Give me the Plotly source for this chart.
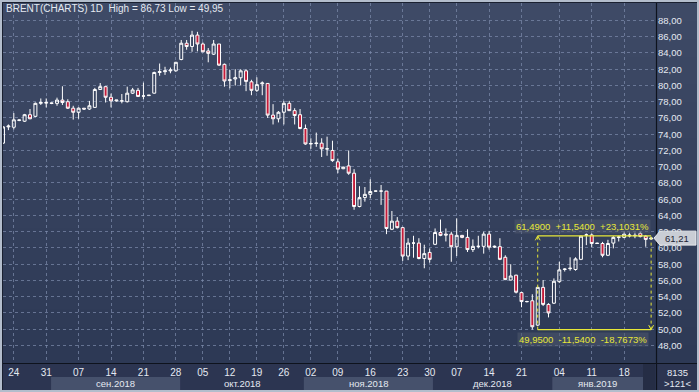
import plotly.graph_objects as go

W, H = 699, 392

# ---------------- data ----------------
opens = [72.9, 74.9, 74.86, 75.7, 75.6, 76.4, 76.2, 77.8, 77.9, 77.85,
         77.8, 78.2, 78.0, 77.2, 76.7, 77.2, 77.1, 77.3, 79.5, 79.85,
         78.55, 78.1, 78.1, 78.0, 79.05, 79.4, 78.7, 78.75, 79.05, 81.6,
         81.7, 81.8, 81.8, 83.2, 85.2, 84.8, 86.2, 85.1, 84.25, 83.85,
         85.1, 82.6, 80.6, 80.8, 80.95, 81.8, 80.45, 79.4, 80.2, 80.25,
         76.35, 75.9, 76.7, 77.8, 76.9, 76.4, 74.7, 72.8, 72.85, 72.9,
         72.2, 72.0, 70.6, 69.75, 70.1, 69.2, 65.1, 66.2, 66.6, 67.0,
         67.0, 67.0, 62.3, 63.3, 62.5, 59.0, 60.6, 60.6, 58.7, 59.45,
         60.45, 61.9, 61.7, 61.7, 60.15, 61.55, 61.3, 59.8, 60.2, 60.2,
         61.7, 60.1, 60.16, 58.85, 56.05, 56.65, 54.5, 53.4, 53.5, 50.5,
         55.15, 53.05, 53.2, 55.85, 57.35, 57.45, 57.35, 58.6, 61.6, 61.6,
         60.6, 60.55, 59.1, 60.6, 61.3, 61.3, 61.6, 61.5, 61.8, 61.45,
         61.1]
highs = [75.0, 75.2, 76.6, 75.8, 76.5, 77.1, 77.9, 78.4, 78.4, 77.9,
         78.5, 79.9, 78.3, 77.5, 77.3, 77.2, 78.1, 79.7, 80.3, 79.9,
         79.0, 78.2, 78.95, 79.85, 79.7, 79.7, 80.35, 78.8, 81.7, 82.7,
         82.3, 82.2, 82.9, 85.6, 85.6, 86.73, 86.6, 85.3, 84.6, 85.6,
         85.1, 82.7, 81.9, 82.0, 82.0, 82.0, 80.7, 81.0, 80.5, 80.3,
         77.7, 76.85, 78.1, 78.1, 77.2, 77.1, 75.2, 73.5, 74.2, 73.5,
         73.7, 73.2, 71.0, 70.0, 72.0, 69.7, 67.6, 67.5, 68.45, 67.05,
         67.75, 67.0, 64.55, 63.8, 62.6, 61.2, 61.5, 61.2, 60.4, 59.95,
         62.4, 63.5, 62.4, 62.0, 63.65, 61.6, 62.3, 61.05, 61.5, 62.0,
         62.1, 60.3, 61.2, 59.1, 58.0, 56.7, 54.6, 53.5, 54.3, 55.2,
         56.05, 53.2, 56.25, 58.3, 57.5, 58.85, 58.85, 61.5, 61.8, 61.8,
         60.65, 60.75, 61.0, 61.45, 61.5, 62.0, 61.9, 61.9, 62.0, 61.6,
         61.3]
lows = [72.8, 74.5, 74.6, 75.6, 75.5, 75.85, 76.1, 77.6, 77.3, 77.7,
        77.5, 77.6, 77.1, 75.8, 75.9, 77.0, 77.0, 77.25, 79.45, 77.9,
        77.3, 78.0, 77.8, 77.9, 78.95, 78.6, 78.3, 78.7, 79.0, 81.2,
        81.3, 81.5, 81.7, 83.1, 84.4, 84.15, 84.2, 84.1, 82.85, 83.75,
        82.4, 79.85, 79.65, 80.0, 80.0, 79.3, 78.8, 79.2, 78.8, 76.0,
        75.2, 75.45, 75.2, 76.85, 75.2, 74.6, 72.7, 72.2, 72.45, 71.2,
        71.35, 70.6, 69.2, 69.7, 69.0, 64.7, 65.0, 65.7, 66.1, 66.95,
        65.3, 61.7, 62.2, 62.4, 58.4, 58.5, 58.8, 58.6, 57.5, 58.2,
        60.35, 61.45, 60.8, 58.3, 59.0, 61.2, 59.5, 59.5, 59.95, 59.3,
        59.8, 60.0, 58.5, 56.05, 56.0, 54.4, 52.7, 53.3, 49.95, 50.4,
        52.85, 51.45, 53.1, 55.7, 57.1, 57.2, 57.2, 58.5, 60.35, 60.1,
        60.5, 58.85, 59.0, 59.95, 60.8, 61.2, 61.3, 61.2, 61.3, 60.15,
        61.0]
closes = [74.9, 75.0, 75.77, 75.75, 76.4, 75.9, 77.8, 77.9, 77.85, 77.8,
          78.2, 77.9, 77.2, 76.7, 77.2, 77.1, 77.5, 79.5, 79.85, 78.55,
          78.1, 78.2, 78.1, 79.05, 79.45, 78.65, 78.7, 78.8, 81.6, 81.7,
          81.8, 81.9, 82.85, 85.2, 84.8, 86.2, 85.1, 84.15, 83.95, 85.1,
          82.5, 80.55, 80.7, 80.95, 81.8, 80.5, 79.4, 80.1, 80.3, 76.35,
          75.9, 76.7, 77.8, 76.9, 76.3, 74.7, 72.8, 72.85, 72.9, 72.2,
          72.2, 70.75, 69.7, 69.95, 69.2, 65.1, 66.2, 66.6, 66.95, 67.0,
          67.0, 62.4, 63.3, 62.5, 59.0, 60.6, 60.6, 58.7, 59.3, 58.6,
          61.9, 61.55, 61.6, 60.15, 61.55, 61.3, 59.8, 60.2, 60.2, 61.7,
          60.1, 60.2, 58.6, 56.1, 56.55, 54.55, 53.4, 53.4, 50.3, 55.15,
          53.05, 52.0, 55.9, 57.3, 57.4, 57.5, 58.65, 61.45, 61.6, 60.55,
          60.55, 59.1, 60.55, 61.3, 61.35, 61.7, 61.5, 61.55, 61.4, 61.05,
          61.21]
bar_index = list(range(len(opens)))

tick_index = [2, 8, 14, 20, 26, 32, 37, 42, 47, 52, 57, 62, 68, 74, 79, 84,
              90, 96, 103, 109, 115]
tick_labels = ["24", "31", "07", "14", "21", "28", "05", "12", "19", "26",
               "02", "09", "16", "23", "30", "07", "14", "21", "04", "11", "18"]

month_labels = ["сен.2018", "окт.2018", "ноя.2018", "дек.2018", "янв.2019"]
month_start = [8.9, 32.8, 55.7, 79.6, 101.7]
month_end = [32.8, 55.7, 79.6, 101.7, 118.5]
month_shaded = [True, False, True, False, True]

price_ticks = [48, 50, 52, 54, 56, 58, 60, 62, 64, 66, 68, 70, 72, 74, 76,
               78, 80, 82, 84, 86, 88]

title_text = "BRENT(CHARTS) 1D  High = 86,73 Low = 49,95"
last_price = 61.21
measure_start, measure_end = 99, 120
measure_low, measure_high = 49.95, 61.49
measure_top_text = "61,4900  +11,5400  +23,1031%"
measure_bottom_text = "49,9500  -11,5400  -18,7673%"
footer_count = "8135"
footer_bars = ">121<"

# ---------------- layout geometry ----------------
PLOT_L, PLOT_R, PLOT_T, PLOT_B = 3, 656, 3, 363
Y_RANGE = [45.84, 90.15]
X_RANGE = [0.0, 120.9]
FONT = "Liberation Sans, Arial, sans-serif"
TXT = "#e4e9f1"
YELLOW = "#e8e838"


def px(x):
    return x / W


def py(y):
    return 1 - y / H


fig = go.Figure()
fig.add_trace(go.Candlestick(
    x=bar_index, open=opens, high=highs, low=lows, close=closes,
    increasing=dict(line=dict(color="#ffffff", width=1), fillcolor="rgba(0,0,0,0)"),
    decreasing=dict(line=dict(color="#ffffff", width=1), fillcolor="#c41c3a"),
    whiskerwidth=0, showlegend=False, hoverinfo="skip",
))

shapes = []
# background gradient over plot + right axis panel
N = 40
top_c = (62, 74, 102)
bot_c = (45, 57, 85)
for k in range(N):
    y0 = PLOT_T + k * (PLOT_B - PLOT_T) / N
    y1 = y0 + (PLOT_B - PLOT_T) / N + 0.6
    t = k / (N - 1)
    c = tuple(int(round(top_c[j] + (bot_c[j] - top_c[j]) * t)) for j in range(3))
    shapes.append(dict(type="rect", xref="paper", yref="paper", layer="below",
                       x0=px(2), x1=px(697), y0=py(min(y1, PLOT_B)), y1=py(y0),
                       fillcolor="rgb(%d,%d,%d)" % c, line=dict(width=0)))
# bottom strip
shapes.append(dict(type="rect", xref="paper", yref="paper", layer="below",
                   x0=px(2), x1=px(697), y0=py(390), y1=py(PLOT_B),
                   fillcolor="#2c3551", line=dict(width=0)))
for lab, s, e, sh in zip(month_labels, month_start, month_end, month_shaded):
    if sh:
        shapes.append(dict(type="rect", xref="x", yref="paper", layer="below",
                           x0=s, x1=e, y0=py(390), y1=py(377),
                           fillcolor="#46516c", line=dict(width=0)))
shapes.append(dict(type="rect", xref="paper", yref="paper", layer="below",
                   x0=px(643), x1=px(655), y0=py(390), y1=py(364),
                   fillcolor="#252d45", line=dict(width=0)))
# separators
shapes.append(dict(type="line", xref="paper", yref="paper", x0=px(656.5), x1=px(656.5),
                   y0=py(390), y1=py(2), line=dict(color="#0e131d", width=1.2)))
shapes.append(dict(type="line", xref="paper", yref="paper", x0=px(2), x1=px(697),
                   y0=py(363.5), y1=py(363.5), line=dict(color="#0e131d", width=1.2)))
# outer frame
shapes.append(dict(type="rect", xref="paper", yref="paper", x0=px(1), x1=px(698),
                   y0=py(391), y1=py(1), line=dict(color="#b3bdcc", width=2)))
shapes.append(dict(type="line", xref="paper", yref="paper", x0=px(2.5), x1=px(2.5),
                   y0=py(390), y1=py(2), line=dict(color="#1a2030", width=1)))
shapes.append(dict(type="line", xref="paper", yref="paper", x0=px(2), x1=px(697),
                   y0=py(2.5), y1=py(2.5), line=dict(color="#1a2030", width=1)))

# measurement tool
ycol = YELLOW
shapes.append(dict(type="line", xref="x", yref="y", x0=measure_start, x1=measure_end,
                   y0=measure_high, y1=measure_high, line=dict(color=ycol, width=1.3)))
shapes.append(dict(type="line", xref="x", yref="y", x0=measure_start, x1=measure_end,
                   y0=measure_low, y1=measure_low, line=dict(color=ycol, width=1.3)))
shapes.append(dict(type="line", xref="x", yref="y", x0=measure_start, x1=measure_start,
                   y0=measure_low, y1=measure_high, line=dict(color=ycol, width=1, dash="3px,3px")))
shapes.append(dict(type="line", xref="x", yref="y", x0=measure_end, x1=measure_end,
                   y0=measure_low, y1=measure_high, line=dict(color=ycol, width=1, dash="3px,3px")))
shapes.append(dict(type="path", xref="x", yref="y",
                   path="M %f,%f L %f,%f L %f,%f" % (measure_start - 0.45, measure_high - 0.55,
                                                      measure_start, measure_high,
                                                      measure_start + 0.45, measure_high - 0.55),
                   line=dict(color=ycol, width=1)))
shapes.append(dict(type="path", xref="x", yref="y",
                   path="M %f,%f L %f,%f L %f,%f" % (measure_end - 0.45, measure_low + 0.55,
                                                      measure_end, measure_low,
                                                      measure_end + 0.45, measure_low + 0.55),
                   line=dict(color=ycol, width=1)))
# last price tag
hh = 0.86
shapes.append(dict(type="path", xref="paper", yref="y",
                   path="M %f,%f L %f,%f L %f,%f L %f,%f L %f,%f Z" % (
                       px(654), last_price, px(660), last_price + hh, px(696), last_price + hh,
                       px(696), last_price - hh, px(660), last_price - hh),
                   fillcolor="#c9cdd5", line=dict(color="#e8eaee", width=1)))

annotations = []
annotations.append(dict(xref="paper", yref="paper", x=px(4), y=py(8.5), text=title_text,
                        showarrow=False, xanchor="left", yanchor="middle",
                        font=dict(family=FONT, size=10, color=TXT)))
for lab, s, e in zip(month_labels, month_start, month_end):
    annotations.append(dict(xref="x", yref="paper", x=(s + e) / 2, y=py(383.5), text=lab,
                            showarrow=False, xanchor="center", yanchor="middle",
                            font=dict(family=FONT, size=9.5, color=TXT)))
annotations.append(dict(xref="paper", yref="paper", x=px(677), y=py(372), text=footer_count,
                        showarrow=False, xanchor="center", yanchor="middle",
                        font=dict(family=FONT, size=9.5, color=TXT)))
annotations.append(dict(xref="paper", yref="paper", x=px(677), y=py(383.5), text=footer_bars,
                        showarrow=False, xanchor="center", yanchor="middle",
                        font=dict(family=FONT, size=9.5, color=TXT)))
annotations.append(dict(xref="paper", yref="y", x=px(677), y=last_price, text="61,21",
                        showarrow=False, xanchor="center", yanchor="middle",
                        font=dict(family=FONT, size=9.5, color="#1c2334")))
annotations.append(dict(xref="x", yref="y", x=(measure_start + measure_end) / 2 - 2.2,
                        y=measure_high, yshift=2, text=measure_top_text, showarrow=False,
                        xanchor="center", yanchor="bottom", bgcolor="rgba(78,88,110,0.55)",
                        borderpad=1, font=dict(family=FONT, size=9.5, color=YELLOW)))
annotations.append(dict(xref="x", yref="y", x=(measure_start + measure_end) / 2 - 2.2,
                        y=measure_low, yshift=-2, text=measure_bottom_text, showarrow=False,
                        xanchor="center", yanchor="top", bgcolor="rgba(78,88,110,0.55)",
                        borderpad=1, font=dict(family=FONT, size=9.5, color=YELLOW)))

grid_col = "rgba(125,140,172,0.7)"
fig.update_layout(
    width=W, height=H,
    margin=dict(l=0, r=0, t=0, b=0),
    paper_bgcolor="#b3bdcc",
    plot_bgcolor="rgba(0,0,0,0)",
    separators=",.",
    showlegend=False,
    boxgap=0.22,
    shapes=shapes,
    annotations=annotations,
    xaxis=dict(domain=[px(PLOT_L), px(PLOT_R)], range=X_RANGE, rangeslider=dict(visible=False),
               tickmode="array", tickvals=tick_index, ticktext=tick_labels,
               showgrid=True, gridcolor=grid_col, gridwidth=1, griddash="3px,3px",
               zeroline=False, showline=False, ticks="", ticklabelstandoff=2,
               tickfont=dict(family=FONT, size=10, color=TXT), fixedrange=True),
    yaxis=dict(domain=[py(PLOT_B), py(PLOT_T)], range=Y_RANGE, side="right",
               tickmode="array", tickvals=price_ticks, tickformat=".2f",
               showgrid=True, gridcolor=grid_col, gridwidth=1, griddash="3px,3px",
               zeroline=False, showline=False, ticks="", ticklabelstandoff=1,
               tickfont=dict(family=FONT, size=9.5, color=TXT), fixedrange=True),
)

fig.write_html(
    "out.html",
    config={"displayModeBar": False, "staticPlot": True},
    post_script="document.body.style.margin='0';document.body.style.overflow='hidden';",
)
